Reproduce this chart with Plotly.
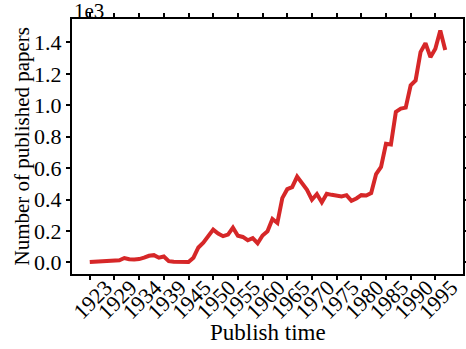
import plotly.graph_objects as go

# Publication years (a few early years have no records)
years = [1923, 1924, 1925, 1926, 1927, 1929, 1930, 1931, 1932, 1933,
         1934, 1935, 1936, 1937, 1938, 1939, 1940, 1941, 1942, 1943,
         1945, 1946, 1947, 1948, 1949, 1950, 1951, 1952, 1953, 1954,
         1955, 1956, 1957, 1958, 1959, 1960, 1961, 1962, 1963, 1964,
         1965, 1966, 1967, 1968, 1969, 1970, 1971, 1972, 1973, 1974,
         1975, 1976, 1977, 1978, 1979, 1980, 1981, 1982, 1983, 1984,
         1985, 1986, 1987, 1988, 1989, 1990, 1991, 1992, 1993, 1994,
         1995, 1996, 1997]

# Number of published papers per year
papers = [2, 4, 6, 7, 9, 11, 14, 28, 20, 19,
          21, 30, 42, 46, 30, 38, 8, 4, 2, 1,
          3, 30, 95, 126, 171, 209, 184, 167, 177, 221,
          170, 162, 141, 155, 122, 171, 198, 276, 251, 409,
          466, 479, 546, 504, 462, 399, 435, 382, 437, 430,
          428, 420, 428, 392, 407, 428, 426, 441, 562, 608,
          755, 750, 958, 979, 985, 1127, 1158, 1338, 1395, 1306,
          1359, 1475, 1352]

# Every fifth category is labelled
tick_years = [str(y) for y in years[::5]]
y_ticks = [0, 200, 400, 600, 800, 1000, 1200, 1400]
y_ticktext = [f"{v / 1000:.1f}" for v in y_ticks]

FONT = "Liberation Serif"
x_cats = [str(y) for y in years]
n = len(x_cats)
pad_x = 0.05 * (n - 1)
pad_y = 0.05 * max(papers)

fig = go.Figure(
    go.Scatter(
        x=x_cats,
        y=papers,
        mode="lines",
        line=dict(color="#d62728", width=4),
        hoverinfo="x+y",
    )
)

fig.update_layout(
    width=466,
    height=349,
    margin=dict(l=72, r=3, t=19, b=75),
    paper_bgcolor="white",
    plot_bgcolor="white",
    font=dict(family=FONT, size=22, color="black"),
    showlegend=False,
)

axis_style = dict(
    ticks="outside",
    ticklen=4,
    tickwidth=1.5,
    tickcolor="black",
    showline=True,
    linecolor="black",
    linewidth=2,
    mirror="ticks",
    showgrid=False,
    zeroline=False,
    automargin=False,
)

fig.update_xaxes(
    type="category",
    categoryorder="array",
    categoryarray=x_cats,
    range=[-pad_x, n - 1 + pad_x],
    tickmode="array",
    tickvals=tick_years,
    ticktext=tick_years,
    tickangle=-45,
    ticklabelshift=16,
    ticklabelstandoff=-14,
    **axis_style,
)

fig.update_yaxes(
    range=[-pad_y, max(papers) + pad_y],
    tickmode="array",
    tickvals=y_ticks,
    ticktext=y_ticktext,
    **axis_style,
)

# Axis titles
fig.add_annotation(
    text="Publish time",
    xref="paper", yref="paper",
    x=0.5, y=0,
    xanchor="center", yanchor="middle",
    yshift=-58,
    showarrow=False,
    font=dict(family=FONT, size=23, color="black"),
)
fig.add_annotation(
    text="Number of published papers",
    xref="paper", yref="paper",
    x=0, y=0.5,
    xanchor="center", yanchor="middle",
    xshift=-51,
    textangle=-90,
    showarrow=False,
    font=dict(family=FONT, size=21, color="black"),
)

# Scale factor shown above the y axis
fig.add_annotation(
    text="1e3",
    xref="paper", yref="paper",
    x=0, y=1,
    xanchor="left", yanchor="bottom",
    showarrow=False,
    font=dict(family=FONT, size=21, color="black"),
    yshift=-6,
)

fig.write_html("out.html")
